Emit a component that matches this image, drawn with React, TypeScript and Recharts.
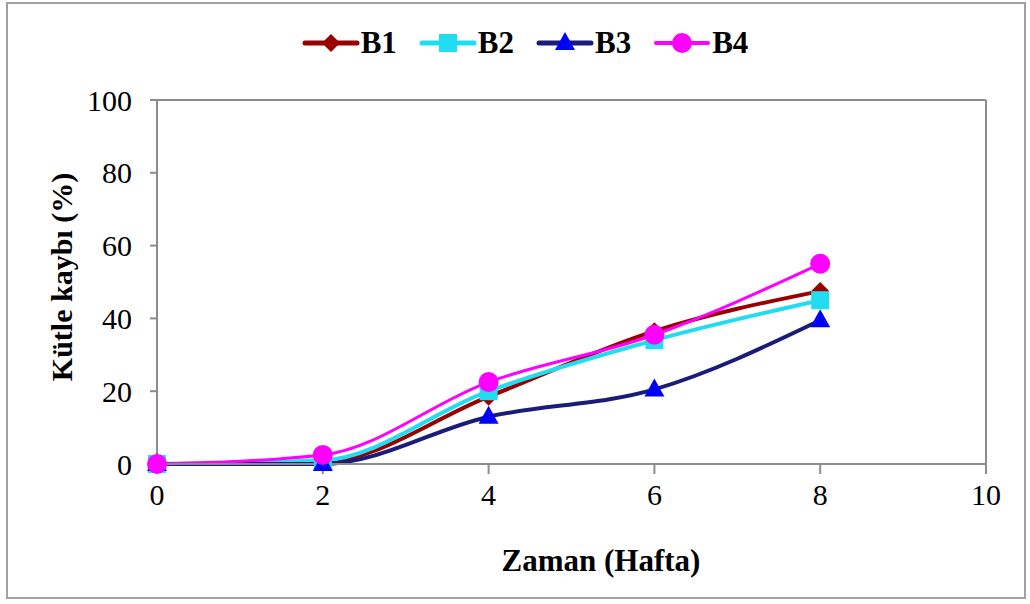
import { LineChart, Line, XAxis, YAxis, ReferenceLine } from "recharts";

const weeks = [0, 2, 4, 6, 8];
const b1 = [0, 0.5, 18.5, 36.5, 47.5];
const b2 = [0, 1, 20, 34, 45];
const b3 = [0, 0, 13, 20.5, 39.5];
const b4 = [0, 2.5, 22.5, 35.5, 55];

const xTicks = [0, 2, 4, 6, 8, 10];
const yTicks = [0, 20, 40, 60, 80, 100];

const data = weeks.map((w, i) => ({ week: w, B1: b1[i], B2: b2[i], B3: b3[i], B4: b4[i] }));

const FONT = "'Liberation Serif', 'Times New Roman', serif";
const AXIS = "#8c8c8c";

const series = [
  { key: "B1", line: "#990000", fill: "#990000", width: 4, shape: "diamond" },
  { key: "B2", line: "#22ddf2", fill: "#22ddf2", width: 4, shape: "square" },
  { key: "B3", line: "#1b1b7a", fill: "#0000ff", width: 4, shape: "triangle" },
  { key: "B4", line: "#ff00ff", fill: "#ff00ff", width: 3, shape: "circle" },
];

function Marker({ cx, cy, shape, fill }: { cx: number; cy: number; shape: string; fill: string }) {
  if (cx == null || cy == null) return null;
  if (shape === "diamond")
    return <polygon points={`${cx},${cy - 9} ${cx + 9},${cy} ${cx},${cy + 9} ${cx - 9},${cy}`} fill={fill} />;
  if (shape === "square") return <rect x={cx - 9} y={cy - 9} width={18} height={18} fill={fill} />;
  if (shape === "triangle")
    return <polygon points={`${cx},${cy - 11} ${cx + 10},${cy + 7} ${cx - 10},${cy + 7}`} fill={fill} />;
  return <circle cx={cx} cy={cy} r={10} fill={fill} />;
}

function LegendRow() {
  return (
    <div
      style={{
        position: "absolute",
        top: 26,
        left: 0,
        width: 1050,
        display: "flex",
        justifyContent: "center",
        gap: 22,
        fontFamily: FONT,
      }}
    >
      {series.map((s) => (
        <div key={s.key} style={{ display: "flex", alignItems: "center" }}>
          <svg width={58} height={26}>
            <line x1={3} y1={13} x2={55} y2={13} stroke={s.line} strokeWidth={s.width + 1} strokeLinecap="round" />
            <Marker cx={29} cy={13} shape={s.shape} fill={s.fill} />
          </svg>
          <span style={{ fontWeight: "bold", fontSize: 31, marginLeft: 1, color: "#000", lineHeight: "34px" }}>{s.key}</span>
        </div>
      ))}
    </div>
  );
}

export default function App() {
  return (
    <div style={{ position: "absolute", left: 0, top: 0, width: 1030, height: 604, background: "#fff" }}>
      <div
        style={{
          position: "absolute",
          left: 6,
          top: 2,
          width: 1020,
          height: 597,
          border: "2px solid #a0a0a0",
          boxSizing: "border-box",
        }}
      />
      <div style={{ position: "absolute", left: 0, top: 0 }}>
        <LineChart width={1030} height={604} data={data} margin={{ top: 100, right: 44, bottom: 100, left: 97 }}>
          <XAxis
            dataKey="week"
            type="number"
            domain={[0, 10]}
            ticks={xTicks}
            stroke={AXIS}
            strokeWidth={2}
            tickSize={10}
            tickMargin={10}
            height={40}
            tick={{ fill: "#000", fontSize: 30, fontFamily: FONT }}
          />
          <YAxis
            domain={[0, 100]}
            ticks={yTicks}
            stroke={AXIS}
            strokeWidth={2}
            tickSize={7}
            tickMargin={18}
            width={60}
            tick={{ fill: "#000", fontSize: 30, fontFamily: FONT }}
          />
          <ReferenceLine y={100} stroke={AXIS} strokeWidth={2} />
          <ReferenceLine x={10} stroke={AXIS} strokeWidth={2} />
          {series.map((s) => (
            <Line
              key={s.key}
              dataKey={s.key}
              type="monotone"
              stroke={s.line}
              strokeWidth={s.width}
              isAnimationActive={false}
              dot={(p: any) => <Marker key={`${s.key}-${p.index}`} cx={p.cx} cy={p.cy} shape={s.shape} fill={s.fill} />}
              activeDot={false}
            />
          ))}
          <text x={601} y={571} textAnchor="middle" fontFamily={FONT} fontWeight="bold" fontSize={31} fill="#000">
            Zaman (Hafta)
          </text>
          <text
            x={72}
            y={277}
            textAnchor="middle"
            fontFamily={FONT}
            fontWeight="bold"
            fontSize={30}
            fill="#000"
            transform="rotate(-90 72 277)"
          >
            Kütle kaybı (%)
          </text>
        </LineChart>
      </div>
      <LegendRow />
    </div>
  );
}
